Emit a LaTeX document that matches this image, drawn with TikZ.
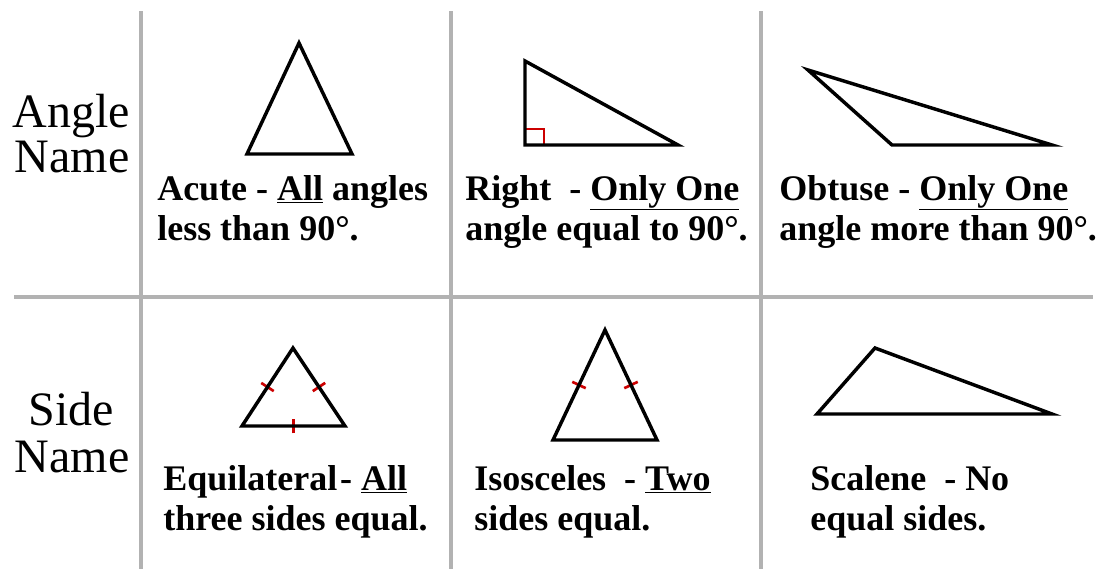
\documentclass[tikz,border=0pt]{standalone}
\usepackage{fontspec}
\setmainfont{Liberation Serif}
\usetikzlibrary{calc}

\begin{document}
\begin{tikzpicture}[
  x=0.75pt,y=-0.75pt,
  line join=miter,
  gridline/.style={line width=2.3pt,black!30,line cap=butt},
  figline/.style={line width=2.6pt,black,line join=miter},
  hashmark/.style={line width=2pt,red!80!black},
  caption/.style={anchor=base west,inner sep=0pt,align=left,
    font=\bfseries\fontsize{27}{30}\selectfont},
  rowname/.style={anchor=base,inner sep=0pt,
    font=\fontsize{36}{34}\selectfont}
]
  \useasboundingbox (0,0) rectangle (1107,569);

  % Table rules.
  \foreach \gx in {141,451,761}
    \draw[gridline] (\gx,11) -- (\gx,569);
  \draw[gridline] (14,297) -- (1093,297);

  % Row headings.
  \node[rowname] (angleA) at (71,127) {Angle};
  \node[rowname] (angleB) at (72,172) {Name};
  \node[rowname] (sideA) at (71,425) {Side};
  \node[rowname] (sideB) at (72,472) {Name};

  % Angle row (captions placed by their last baseline).
  \draw[figline] (299,43) -- (352,154) -- (247,154) -- cycle;

  \draw[hashmark,line cap=butt] (525,129) -- (544,129) -- (544,145);
  \draw[figline] (525,61) -- (525,145) -- (678,145) -- cycle;

  \draw[figline] (808,70) -- (892,145) -- (1052,145) -- cycle;

  \node[caption] (acute) at (157,240)
    {Acute - \underline{All} angles\\less than 90°.};
  \node[caption] (right) at (465,240)
    {Right\ \ - \underline{Only One}\\angle equal to 90°.};
  \node[caption] (obtuse) at (779,240)
    {Obtuse - \underline{Only One}\\angle more than 90°.};

  % Side row.
  \coordinate (eqT) at (293,348);
  \coordinate (eqR) at (345,426);
  \coordinate (eqL) at (242,426);
  \coordinate (isT) at (605,330);
  \coordinate (isR) at (657,440);
  \coordinate (isL) at (553,440);

  \foreach \sa/\sb in {eqL/eqT,eqT/eqR,eqR/eqL,isL/isT,isT/isR}{
    \coordinate (hm) at ($(\sa)!0.5!(\sb)$);
    \draw[hashmark] ($(hm)!5.6pt!90:(\sb)$) -- ($(hm)!5.6pt!-90:(\sb)$);
  }
  \draw[figline] (eqT) -- (eqR) -- (eqL) -- cycle;
  \draw[figline] (isT) -- (isR) -- (isL) -- cycle;

  \draw[figline] (875,348) -- (1052,414) -- (817,414) -- cycle;

  \node[caption] (equilateral) at (163,530)
    {Equilateral\hspace{0.08em}- \underline{All}\\three sides equal.};
  \node[caption] (isosceles) at (474,530)
    {Isosceles\ \ - \underline{Two}\\sides equal.};
  \node[caption] (scalene) at (810,530)
    {Scalene\ \ - No\\equal sides.};
\end{tikzpicture}
\end{document}
